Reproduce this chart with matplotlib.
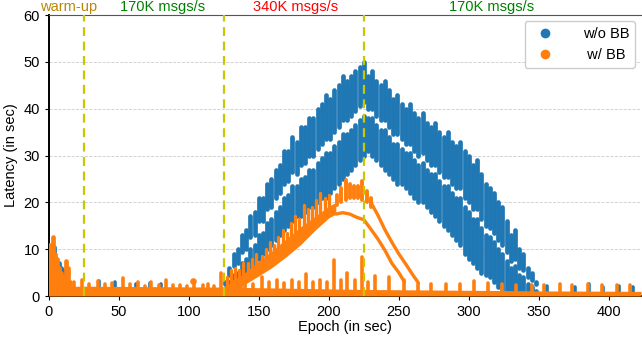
import matplotlib.pyplot as plt
from matplotlib.lines import Line2D

plt.rcParams['font.family'] = ['Liberation Sans', 'DejaVu Sans']

BLUE = '#1f77b4'
ORANGE = '#ff7f0e'

# ---- w/o BB : vertical streaks (epoch, low, high) ----
blue_rise_x = [126, 129, 132, 135, 138, 141, 144, 147, 150, 153, 156, 159, 162, 165, 168, 171, 174,
               177, 180, 183, 186, 189, 192, 195, 198, 201, 204, 207, 210, 213, 216, 219, 222, 225]
blue_rise_top = [3, 6, 9, 10, 13, 14, 17, 18, 21, 21, 24, 25, 27, 28, 31, 31, 34,
                 33, 36, 36, 38, 38, 40, 41, 43, 42, 44, 45, 47, 46, 47, 48, 49, 50]
blue_rise_gap_hi = [2.5, 4.5, 6.5, 7, 9.5, 10, 12.5, 13, 16, 16, 18.5, 19, 21, 22, 24, 24.5, 26.5,
                    26, 28, 28.5, 30, 30, 31.5, 32.5, 33.5, 33.5, 35, 36, 37.5, 37.5, 38.5, 39.5, 40.5, 41.5]
blue_rise_gap_lo = [1.5, 3, 4.5, 5, 7, 8, 10, 11, 13, 13.5, 15.5, 16.5, 18, 19, 21, 21.5, 23.5,
                    23.5, 25, 25.5, 27, 27, 28.5, 29.5, 30.5, 30.5, 32, 33, 34.5, 34.5, 35.5, 36.5, 37.5, 38.5]
blue_rise_bot = [0.5, 1, 1.5, 2, 3, 4, 5, 6, 8, 9, 10, 11, 12, 13, 14, 15, 16,
                 17, 17, 18, 19, 19, 20, 21, 21, 22, 23, 24, 25, 26, 27, 28, 29, 30]

blue_fall_x = [228, 231, 234, 237, 240, 243, 246, 249, 252, 255, 258, 261, 264, 267, 270, 273, 276,
               279, 282, 285, 288, 291, 294, 297, 300, 303, 306, 309, 312, 315, 318, 321, 324, 327,
               330, 333, 336, 339, 342, 345, 348]
blue_fall_top = [47, 48, 46, 45, 46, 44, 42, 43, 41, 40, 41, 39, 38, 39, 37, 36, 37,
                 35, 34, 35, 33, 32, 33, 31, 30, 28, 29, 26, 24, 23, 22, 20, 19, 16,
                 13, 14, 10, 9, 6, 5, 3]
blue_fall_gap_hi = [40, 40, 38.5, 37.5, 37.5, 36, 34.5, 34.5, 33.5, 32.5, 32.5, 31, 30, 30.5, 29, 28, 28,
                    26.5, 25.5, 25.5, 24, 23, 23, 21, 20, 18.5, 18.5, 16.5, 15, 14.5, 13.5, 12, 11, 9.5,
                    7.5, 8, 6, 5.5, 4, 3.5, 2.5]
blue_fall_gap_lo = [38, 38, 36.5, 35.5, 35.5, 34, 32.5, 32.5, 31.5, 30.5, 30.5, 29, 28, 28.5, 27, 26, 26,
                    24.5, 23.5, 23.5, 22, 21, 21, 19, 18, 16.5, 16.5, 14.5, 13, 12.5, 11.5, 10, 9, 7.5,
                    6, 6.5, 4.5, 4, 2.5, 2, 1]
blue_fall_bot = [31, 30, 29, 28, 27, 26, 25, 24, 24, 23, 22, 21, 20, 20, 19, 18, 17,
                 16, 15, 14, 13, 12, 11, 9, 8, 7, 6, 5, 4.5, 4, 3, 2, 1, 1,
                 0.5, 0.5, 0.5, 0.5, 0.5, 0.5, 0.5]

blue_early_x = [1, 2.5, 4, 5.5, 7, 8.5, 10, 11.5, 13, 14.5]
blue_early_lo = [0.5, 1, 1.5, 3, 2, 3, 1, 1, 1, 1]
blue_early_hi = [8, 9, 10.5, 8, 7, 6, 5.5, 4, 5, 2.5]

blue_small_x = [36, 47, 62, 72, 80, 356, 376, 386, 396, 407, 417]
blue_small_hi = [3.3, 3, 2.6, 2.8, 2.6, 2.2, 2.0, 2.6, 2.0, 2.2, 2.0]

# ---- w/ BB ----
orange_early_x = [0, 1.5, 3, 4.5, 6, 7.5, 9, 10.5, 12, 13.5, 15]
orange_early_lo = [0, 1, 2, 2, 1, 1, 1, 0.5, 1, 1, 1]
orange_early_hi = [11, 11, 12.5, 9, 8, 6, 5, 4, 7.5, 6, 3]

orange_base_x = [0, 25, 125, 225, 350, 423]
orange_base_hi = [2.0, 2.1, 1.9, 1.4, 1.1, 1.0]

orange_spike_x = [18, 24, 29, 35, 40, 45, 53, 58, 64, 69, 73, 79, 84, 89, 94, 99, 104, 110, 114, 118,
                  123, 132, 137, 140, 146, 152, 157, 163, 168, 174, 179, 184, 189, 194, 199, 204,
                  209, 213, 219, 224, 228, 233, 243, 254, 264, 273, 284, 294, 304, 314, 324, 334,
                  345, 354, 365, 374, 385, 395, 406, 415]
orange_spike_hi = [3, 3.4, 2.5, 3.2, 2.5, 2.8, 3.8, 2.5, 3, 2.2, 2.9, 2.4, 3.4, 2.4, 2.4, 2.2, 2.6, 2.4,
                   2.6, 2.2, 5, 3, 2.5, 3.4, 2.5, 4, 3, 3.5, 2.8, 3.5, 3, 4.8, 3, 3.5, 3, 7.7,
                   3.5, 4.9, 3.5, 8.4, 3, 4.2, 4, 3.4, 2.6, 2.5, 2.5, 2.5, 3.3, 2.8, 2.5, 2.4,
                   2.4, 2.4, 2.5, 2.4, 2.5, 2.3, 2.3, 2.4]
orange_dot = (103, 3.2)

band_x = [126, 130, 140, 150, 160, 170, 180, 190, 200, 205]
band_lo = [0.5, 1, 2.5, 4.3, 6.2, 8.5, 11, 14, 16.7, 17.5]
band_hi = [2, 3, 5, 7.5, 9.8, 12.3, 14.8, 17, 19.2, 20]

band_spike_x = [127, 130, 133, 136, 139, 142, 145, 148, 152, 155, 158, 161, 164, 167, 170, 173,
                176, 179, 182, 185, 188, 191, 194, 197, 200]
band_spike_lo = [1.2, 2, 2.6, 3.2, 3.8, 4.5, 5.2, 6, 7, 7.6, 8.3, 9, 9.8, 10.5, 11.3, 12,
                 12.8, 13.5, 14.2, 15, 15.5, 16.2, 16.9, 17.5, 18.2]
band_spike_hi = [4, 5.5, 6, 5.5, 7, 7, 8, 9, 8.5, 10, 11.5, 11, 12.5, 14, 13.5, 15.5,
                 17, 16.5, 19.5, 18.5, 19, 20.5, 22, 21, 21.5]

low_curve_x = [205, 210, 215, 220, 225, 230, 235, 240, 245, 250, 254]
low_curve_y = [17.5, 17.8, 17.5, 16.8, 16.3, 14.3, 12.2, 9.8, 7, 5, 3]

top_cluster_x = [206, 209, 212, 215, 218, 221, 224, 227, 230]
top_cluster_lo = [19.5, 20, 20.5, 21, 21, 21, 20.5, 20, 19]
top_cluster_hi = [21.5, 23, 24.7, 24, 23.5, 23.5, 24.5, 22.5, 21]

top_curve_x = [230, 235, 240, 245, 250, 255, 260, 264]
top_curve_y = [20, 17.3, 14.2, 11.5, 9, 6.8, 4.5, 2.8]

phase_x = [25, 125, 225]
phase_labels = ['warm-up', '170K msgs/s', '340K msgs/s', '170K msgs/s']
phase_label_x = [14, 81, 176, 316]
phase_colors = ['#b8860b', 'green', 'red', 'green']

fig = plt.figure(figsize=(6.42, 3.43), dpi=100)
ax = fig.add_axes([0.076, 0.137, 0.9225, 0.819])

lw = 3.4
# w/o BB
for xs, lo, hi in [(blue_rise_x, blue_rise_gap_hi, blue_rise_top),
                   (blue_rise_x, blue_rise_bot, blue_rise_gap_lo),
                   (blue_fall_x, blue_fall_gap_hi, blue_fall_top),
                   (blue_fall_x, blue_fall_bot, blue_fall_gap_lo),
                   (blue_early_x, blue_early_lo, blue_early_hi)]:
    ax.vlines(xs, lo, hi, colors=BLUE, linewidth=lw, capstyle='round', zorder=3)
ax.vlines(blue_small_x, 0, blue_small_hi, colors=BLUE, linewidth=2.6, capstyle='round', zorder=3)

# w/ BB
ax.fill_between(orange_base_x, 0, orange_base_hi, color=ORANGE, linewidth=0, zorder=4)
ax.vlines(orange_early_x, orange_early_lo, orange_early_hi, colors=ORANGE, linewidth=lw,
          capstyle='round', zorder=4)
ax.vlines(orange_spike_x, 0, orange_spike_hi, colors=ORANGE, linewidth=2.6, capstyle='round', zorder=4)
ax.scatter([orange_dot[0]], [orange_dot[1]], s=14, color=ORANGE, zorder=4)
ax.fill_between(band_x, band_lo, band_hi, color=ORANGE, linewidth=0, zorder=4)
ax.vlines(band_spike_x, band_spike_lo, band_spike_hi, colors=ORANGE, linewidth=2.4,
          capstyle='round', zorder=4)
ax.plot(low_curve_x, low_curve_y, color=ORANGE, linewidth=2.4, solid_capstyle='round', zorder=4)
ax.vlines(top_cluster_x, top_cluster_lo, top_cluster_hi, colors=ORANGE, linewidth=2.8,
          capstyle='round', zorder=4)
ax.plot(top_curve_x, top_curve_y, color=ORANGE, linewidth=2.4, solid_capstyle='round', zorder=4)

# phases
for px in phase_x:
    ax.axvline(px, color='#c8c800', linestyle=(0, (4, 2.5)), linewidth=1.6, zorder=5)
for lx, txt, c in zip(phase_label_x, phase_labels, phase_colors):
    ax.text(lx, 60.3, txt, color=c, ha='center', va='bottom', fontsize=10.5)

ax.set_xlim(0, 423)
ax.set_ylim(0, 60)
ax.set_xticks(range(0, 401, 50))
ax.set_yticks(range(0, 61, 10))
ax.tick_params(labelsize=10.5, length=3)
ax.set_xlabel('Epoch (in sec)', fontsize=10.5, labelpad=1)
ax.set_ylabel('Latency (in sec)', fontsize=10.5)
ax.yaxis.grid(True, linestyle='--', color='#cccccc', linewidth=0.6)
ax.set_axisbelow(True)
ax.spines['left'].set_linewidth(1.4)
ax.spines['bottom'].set_linewidth(1.4)
ax.spines['top'].set_color('#555555')
ax.spines['right'].set_visible(False)

handles = [Line2D([], [], marker='o', linestyle='none', color=BLUE, markersize=6),
           Line2D([], [], marker='o', linestyle='none', color=ORANGE, markersize=6)]
ax.legend(handles, ['w/o BB', ' w/ BB'], loc='upper right', fontsize=10.5,
          borderaxespad=0.4, handletextpad=1.6, framealpha=1)

fig.savefig('out.png', dpi=100)
